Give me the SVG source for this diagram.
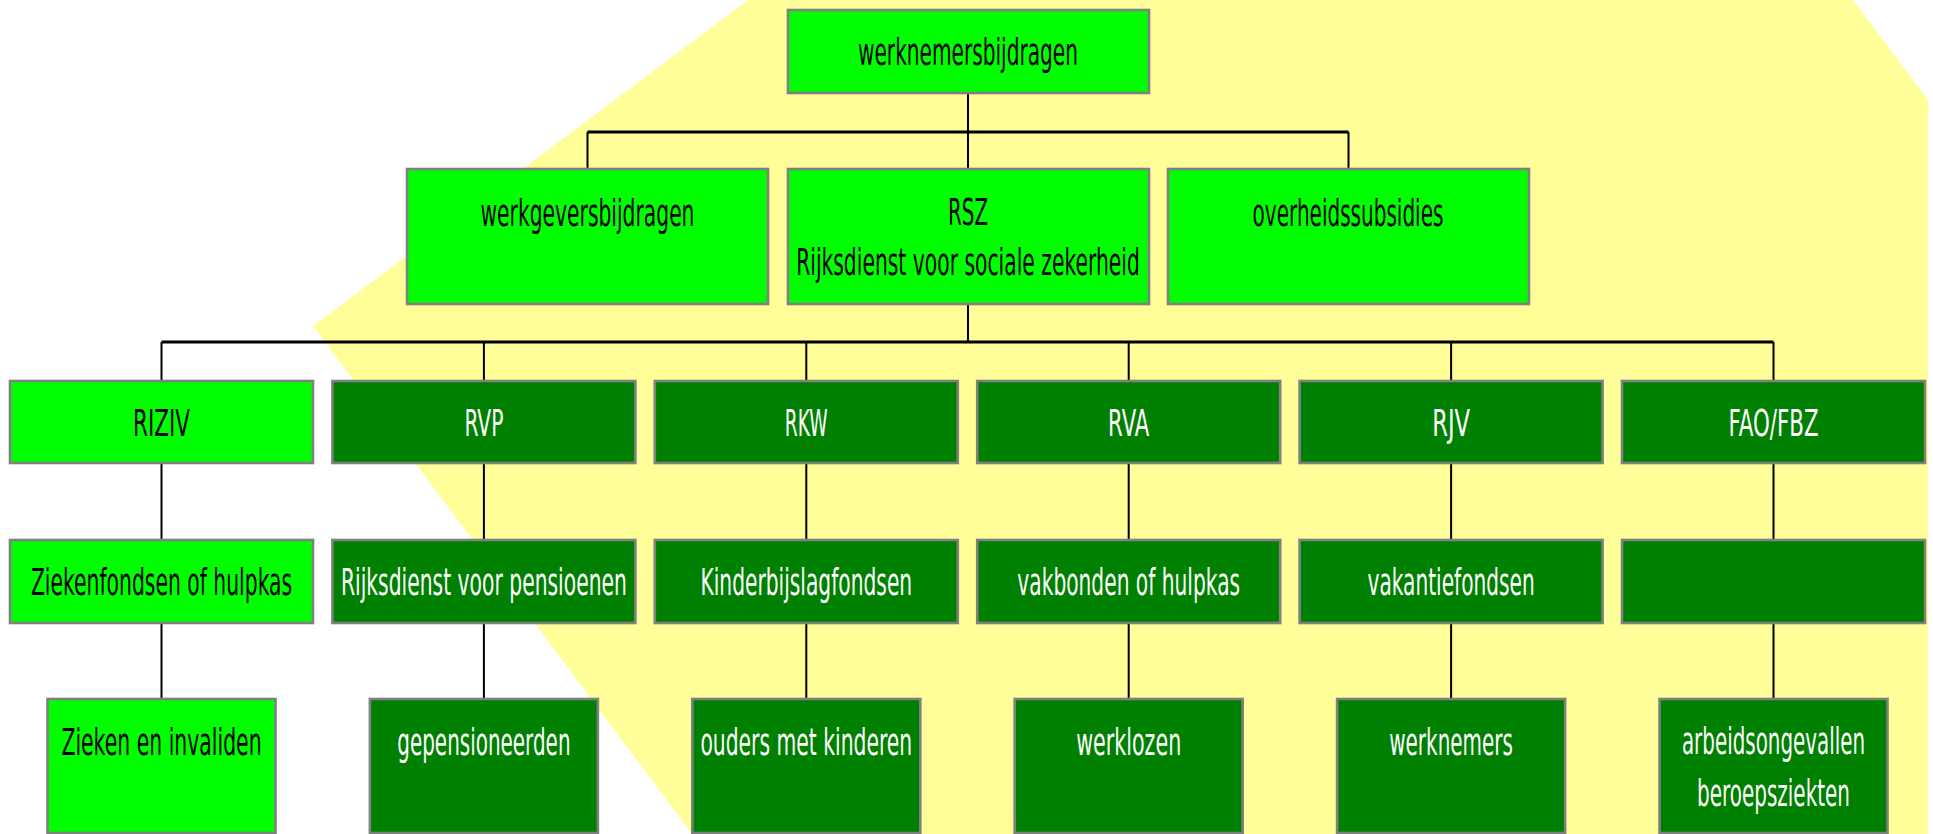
<svg xmlns="http://www.w3.org/2000/svg" width="1933" height="834" viewBox="0 0 1933 834">
<style>
.lg{fill:#00FF00;stroke:#808080;stroke-width:2.6}
.dg{fill:#008000;stroke:#808080;stroke-width:2.6}
text{font-family:"DejaVu Sans","DejaVu Sans Condensed",sans-serif;text-anchor:middle;font-size:38px}
.b{fill:#000}
.w{fill:#fff}
.thin{stroke:#000;stroke-width:2;fill:none}
.thick{stroke:#000;stroke-width:3.2;fill:none}
</style>
<rect x="0" y="0" width="1933" height="834" fill="#fff"/>
<polygon points="748,0 1853,0 1928,100 1928,834 692,834 313,326" fill="#FFFE99"/>
<g id="connectors">
<path class="thin" d="M968,93V169M587.5,132V169M1348.5,132V169M968,304V342"/>
<path class="thick" d="M587.5,132H1348.5M161.5,342H1773.5"/>
<path class="thin" d="M161.5,342V381M161.5,463V540M161.5,623V699"/>
<path class="thin" d="M483.9,342V381M483.9,463V540M483.9,623V699"/>
<path class="thin" d="M806.3,342V381M806.3,463V540M806.3,623V699"/>
<path class="thin" d="M1128.7,342V381M1128.7,463V540M1128.7,623V699"/>
<path class="thin" d="M1451.1,342V381M1451.1,463V540M1451.1,623V699"/>
<path class="thin" d="M1773.5,342V381M1773.5,463V540M1773.5,623V699"/>
</g>
<g id="werknemersbijdragen">
<rect class="lg" x="788" y="10" width="361" height="83"/>
<text class="b" transform="translate(968,65) scale(0.55,1)" font-size="31" textLength="400" lengthAdjust="spacingAndGlyphs">werknemersbijdragen</text>
</g>
<g id="werkgeversbijdragen">
<rect class="lg" x="407" y="169" width="361" height="135"/>
<text class="b" transform="translate(587.5,226) scale(0.55,1)" font-size="33" textLength="389" lengthAdjust="spacingAndGlyphs">werkgeversbijdragen</text>
</g>
<g id="rsz">
<rect class="lg" x="788" y="169" width="361" height="135"/>
<text class="b" transform="translate(968,225) scale(0.55,1)" textLength="73" lengthAdjust="spacingAndGlyphs">RSZ</text>
<text class="b" transform="translate(968,275) scale(0.55,1)" textLength="625" lengthAdjust="spacingAndGlyphs">Rijksdienst voor sociale zekerheid</text>
</g>
<g id="overheidssubsidies">
<rect class="lg" x="1168" y="169" width="361" height="135"/>
<text class="b" transform="translate(1348,226) scale(0.55,1)" font-size="33" textLength="347" lengthAdjust="spacingAndGlyphs">overheidssubsidies</text>
</g>
<g id="riziv">
<rect class="lg" x="10" y="381" width="303" height="82"/>
<text class="b" transform="translate(161.5,436) scale(0.55,1)" textLength="104" lengthAdjust="spacingAndGlyphs">RIZIV</text>
</g>
<g id="rvp">
<rect class="dg" x="332.4" y="381" width="303" height="82"/>
<text class="w" transform="translate(483.9,436) scale(0.55,1)" textLength="71" lengthAdjust="spacingAndGlyphs">RVP</text>
</g>
<g id="rkw">
<rect class="dg" x="654.8" y="381" width="303" height="82"/>
<text class="w" transform="translate(806.3,436) scale(0.55,1)" textLength="78" lengthAdjust="spacingAndGlyphs">RKW</text>
</g>
<g id="rva">
<rect class="dg" x="977.2" y="381" width="303" height="82"/>
<text class="w" transform="translate(1128.7,436) scale(0.55,1)" textLength="75" lengthAdjust="spacingAndGlyphs">RVA</text>
</g>
<g id="rjv">
<rect class="dg" x="1299.6" y="381" width="303" height="82"/>
<text class="w" transform="translate(1451.1,436) scale(0.55,1)" textLength="69" lengthAdjust="spacingAndGlyphs">RJV</text>
</g>
<g id="fao">
<rect class="dg" x="1622" y="381" width="303" height="82"/>
<text class="w" transform="translate(1773.5,436) scale(0.55,1)" textLength="164" lengthAdjust="spacingAndGlyphs">FAO/FBZ</text>
</g>
<g id="ziekenfondsen">
<rect class="lg" x="10" y="540" width="303" height="83"/>
<text class="b" transform="translate(161.5,595) scale(0.55,1)" font-size="39" textLength="475" lengthAdjust="spacingAndGlyphs">Ziekenfondsen of hulpkas</text>
</g>
<g id="rijksdienst-pensioenen">
<rect class="dg" x="332.4" y="540" width="303" height="83"/>
<text class="w" transform="translate(483.9,595) scale(0.55,1)" font-size="39" textLength="520" lengthAdjust="spacingAndGlyphs">Rijksdienst voor pensioenen</text>
</g>
<g id="kinderbijslagfondsen">
<rect class="dg" x="654.8" y="540" width="303" height="83"/>
<text class="w" transform="translate(806.3,595) scale(0.55,1)" font-size="39" textLength="385" lengthAdjust="spacingAndGlyphs">Kinderbijslagfondsen</text>
</g>
<g id="vakbonden">
<rect class="dg" x="977.2" y="540" width="303" height="83"/>
<text class="w" transform="translate(1128.7,595) scale(0.55,1)" font-size="39" textLength="405" lengthAdjust="spacingAndGlyphs">vakbonden of hulpkas</text>
</g>
<g id="vakantiefondsen">
<rect class="dg" x="1299.6" y="540" width="303" height="83"/>
<text class="w" transform="translate(1451.1,595) scale(0.55,1)" font-size="39" textLength="304" lengthAdjust="spacingAndGlyphs">vakantiefondsen</text>
</g>
<g id="fao-fonds">
<rect class="dg" x="1622" y="540" width="303" height="83"/>
</g>
<g id="zieken">
<rect class="lg" x="47.5" y="699" width="228" height="134"/>
<text class="b" transform="translate(161.5,755) scale(0.55,1)" font-size="39" textLength="364" lengthAdjust="spacingAndGlyphs">Zieken en invaliden</text>
</g>
<g id="gepensioneerden">
<rect class="dg" x="369.9" y="699" width="228" height="134"/>
<text class="w" transform="translate(483.9,755) scale(0.55,1)" font-size="39" textLength="315" lengthAdjust="spacingAndGlyphs">gepensioneerden</text>
</g>
<g id="ouders">
<rect class="dg" x="692.3" y="699" width="228" height="134"/>
<text class="w" transform="translate(806.3,755) scale(0.55,1)" font-size="39" textLength="385" lengthAdjust="spacingAndGlyphs">ouders met kinderen</text>
</g>
<g id="werklozen">
<rect class="dg" x="1014.7" y="699" width="228" height="134"/>
<text class="w" transform="translate(1128.7,755) scale(0.55,1)" font-size="39" textLength="191" lengthAdjust="spacingAndGlyphs">werklozen</text>
</g>
<g id="werknemers">
<rect class="dg" x="1337.1" y="699" width="228" height="134"/>
<text class="w" transform="translate(1451.1,755) scale(0.55,1)" font-size="39" textLength="225" lengthAdjust="spacingAndGlyphs">werknemers</text>
</g>
<g id="arbeidsongevallen">
<rect class="dg" x="1659.5" y="699" width="228" height="134"/>
<text class="w" transform="translate(1773.5,754) scale(0.55,1)" font-size="39" textLength="333" lengthAdjust="spacingAndGlyphs">arbeidsongevallen</text>
<text class="w" transform="translate(1773.5,806) scale(0.55,1)" font-size="39" textLength="278" lengthAdjust="spacingAndGlyphs">beroepsziekten</text>
</g>
</svg>
